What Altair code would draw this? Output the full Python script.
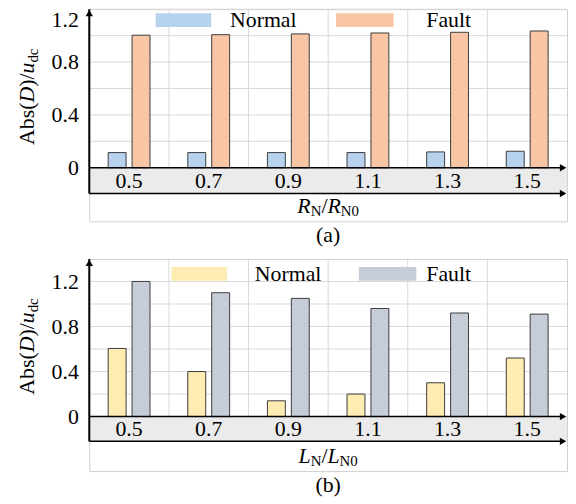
import altair as alt
import pandas as pd

# ---------------- data ----------------
cats = ["0.5", "0.7", "0.9", "1.1", "1.3", "1.5"]
series = ["Normal", "Fault"]
a_normal = [0.115, 0.115, 0.115, 0.115, 0.12, 0.125]
a_fault = [1.003, 1.007, 1.013, 1.02, 1.025, 1.035]
b_normal = [0.605, 0.40, 0.14, 0.20, 0.30, 0.52]
b_fault = [1.20, 1.10, 1.05, 0.96, 0.92, 0.91]
a_ticks = [0, 0.2, 0.4, 0.6, 0.8, 1.0, 1.2]
b_ticks = [0, 0.2, 0.4, 0.6, 0.8, 1.0, 1.2]

# ---------------- style ----------------
W, H = 482, 214
FONT = "Liberation Serif"
FS = 22
SUB = 15
GRID = "#d9d9d9"
FRAME = "#d0d0d0"
BAND = "#ebebeb"
BARSTROKE = "#3c3c3c"
one = alt.Data(values=[{}])


def txt(text, x, y, size=FS, italic=False, align="left", baseline="alphabetic", angle=0):
    kw = dict(text=text, font=FONT, fontSize=size, color="black", align=align, baseline=baseline)
    if italic:
        kw["fontStyle"] = "italic"
    if angle:
        kw["angle"] = angle
    return alt.Chart(one).mark_text(**kw).encode(x=alt.value(x), y=alt.value(y))


def panel(normal, fault, colors, ymin, ymax, band_low, ticks, flush, xsym, tag, leg):
    df = pd.DataFrame({"cat": cats * 2,
                       "series": [series[0]] * len(cats) + [series[1]] * len(cats),
                       "value": normal + fault})
    xscale = alt.Scale(domain=cats, paddingInner=0, paddingOuter=0)
    yscale = alt.Scale(domain=[ymin, ymax], nice=False, zero=False)
    yax = alt.Axis(values=ticks,
                   labelExpr="round(datum.value*10)%4==0 ? format(datum.value,'~g') : ''",
                   grid=False, domain=False, ticks=False, title=None,
                   labelFont=FONT, labelFontSize=FS, labelColor="black",
                   labelPadding=11, labelFlush=flush, labelOverlap=False)

    hgrid = alt.Chart(pd.DataFrame({"v": ticks})).mark_rule(color=GRID, strokeWidth=1).encode(
        y=alt.Y("v:Q", scale=yscale, axis=yax), x=alt.value(0), x2=alt.value(W))
    vgrid = alt.Chart(pd.DataFrame({"cat": cats})).mark_rule(color=GRID, strokeWidth=1).encode(
        x=alt.X("cat:N", bandPosition=0, scale=xscale, axis=None, sort=cats),
        y=alt.Y(datum=0, scale=yscale, axis=yax), y2=alt.datum(ymax))
    band = alt.Chart(one).mark_rect(color=BAND).encode(
        x=alt.value(0), x2=alt.value(W),
        y=alt.Y(datum=0, scale=yscale, axis=yax), y2=alt.datum(band_low))
    bars = alt.Chart(df).mark_bar(stroke=BARSTROKE, strokeWidth=1).encode(
        x=alt.X("cat:N", scale=xscale, axis=None, sort=cats),
        xOffset=alt.XOffset("series:N", sort=series,
                            scale=alt.Scale(domain=series, paddingInner=0.25, paddingOuter=0.79)),
        y=alt.Y("value:Q", scale=yscale, axis=yax),
        y2=alt.datum(0),
        color=alt.Color("series:N", scale=alt.Scale(domain=series, range=colors), legend=None))
    ticklab = alt.Chart(pd.DataFrame({"cat": cats})).mark_text(
        font=FONT, fontSize=FS, color="black", baseline="middle").encode(
        x=alt.X("cat:N", scale=xscale, axis=None, sort=cats),
        y=alt.Y(datum=band_low / 2, scale=yscale, axis=yax),
        text="cat:N")
    # black axis lines with arrow heads
    vline = alt.Chart(one).mark_rule(color="black", strokeWidth=2).encode(
        x=alt.value(0), y=alt.Y(datum=band_low, scale=yscale, axis=yax), y2=alt.datum(ymax))
    varrow = alt.Chart(one).mark_point(shape="triangle-up", filled=True, color="black",
                                       size=55, opacity=1).encode(x=alt.value(0), y=alt.value(4))
    hlines = alt.Chart(pd.DataFrame({"v": [0, band_low]})).mark_rule(color="black", strokeWidth=1.5).encode(
        y=alt.Y("v:Q", scale=yscale, axis=yax), x=alt.value(0), x2=alt.value(W - 4))
    harrows = alt.Chart(pd.DataFrame({"v": [0, band_low]})).mark_point(
        shape="triangle-right", filled=True, color="black", size=55, opacity=1).encode(
        y=alt.Y("v:Q", scale=yscale, axis=yax), x=alt.value(W - 4))
    # legend
    lx1, lx2, ly, tx1, tx2 = leg
    legend = [
        alt.Chart(one).mark_rect(color=colors[0]).encode(
            x=alt.value(lx1), x2=alt.value(lx1 + 56), y=alt.value(ly), y2=alt.value(ly + 14)),
        txt(series[0], tx1, ly + 7, baseline="middle"),
        alt.Chart(one).mark_rect(color=colors[1]).encode(
            x=alt.value(lx2), x2=alt.value(lx2 + 58), y=alt.value(ly), y2=alt.value(ly + 14)),
        txt(series[1], tx2, ly + 7, baseline="middle"),
    ]
    # y title: Abs(D)/u_dc (rotated)
    yb = 137
    ytitle = [
        txt("Abs(", -56, yb, angle=270),
        txt("D", -56, yb - 42.8, italic=True, angle=270),
        txt(")/", -56, yb - 58.7, angle=270),
        txt("u", -56, yb - 72.1, italic=True, angle=270),
        txt("dc", -52, yb - 83.1, size=SUB, angle=270),
    ]
    # x title
    w_main = 0.611 if xsym == "R" else 0.556
    wm = w_main * FS
    total = wm + 0.722 * SUB + 0.278 * FS + wm + 1.222 * SUB
    x0 = W / 2 - total / 2
    xt = [
        txt(xsym, x0, 206, italic=True),
        txt("N", x0 + wm, 209, size=SUB),
        txt("/", x0 + wm + 0.722 * SUB, 206),
        txt(xsym, x0 + wm + 0.722 * SUB + 0.278 * FS, 206, italic=True),
        txt("N0", x0 + 2 * wm + 0.722 * SUB + 0.278 * FS, 209, size=SUB),
        txt(tag, W / 2, 228, align="center", baseline="middle"),
    ]
    return alt.layer(hgrid, vgrid, band, bars, ticklab, vline, varrow, hlines, harrows,
                     *legend, *ytitle, *xt).properties(width=W, height=H)


pa = panel(a_normal, a_fault, ["#b7d2ed", "#f8c6a4"], -0.405, 1.2, -0.195, a_ticks, True,
           "R", "(a)", (67, 249, 4, 142, 340))
pb = panel(b_normal, b_fault, ["#feecb2", "#c6ccd8"], -0.484, 1.4, -0.22, b_ticks, False,
           "L", "(b)", (83, 272, 8, 167, 340))

chart = alt.vconcat(pa, pb, spacing=10).resolve_scale(
    x="independent", y="independent", color="independent", xOffset="independent"
).properties(padding={"left": 7, "top": -3, "right": 0, "bottom": 0}).configure_view(
    stroke=FRAME, strokeWidth=1)

chart.save("out.html", embed_options={"renderer": "svg", "actions": False})
